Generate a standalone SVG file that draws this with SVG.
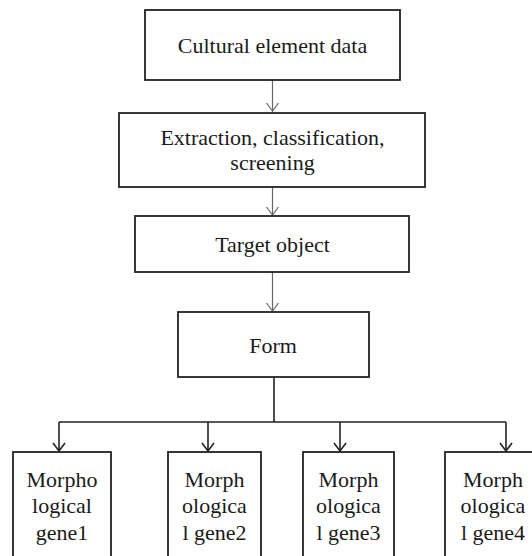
<svg xmlns="http://www.w3.org/2000/svg" width="532" height="556" viewBox="0 0 532 556">
<style>
.box{fill:#fff;stroke:#222;stroke-width:1.8}
.t{font-family:"Liberation Serif","Times New Roman",serif;font-size:22px;fill:#1a1a1a;text-anchor:middle}
.c1{fill:none;stroke:#666;stroke-width:1.2}
.c2{fill:none;stroke:#222;stroke-width:1.6}
</style>
<defs>
<marker id="ag" markerWidth="14" markerHeight="10" refX="7" refY="9" orient="auto-start-reverse" markerUnits="userSpaceOnUse" viewBox="0 0 14 10">
<path d="M1,1 L7,9 L13,1" fill="none" stroke="#666" stroke-width="1.2"/>
</marker>
<marker id="ad" markerWidth="14" markerHeight="10" refX="7" refY="9" markerUnits="userSpaceOnUse" viewBox="0 0 14 10">
<path d="M1,1 L7,9 L13,1" fill="none" stroke="#222" stroke-width="1.6"/>
</marker>
</defs>
<rect width="532" height="556" fill="#fff"/>
<g id="connectors">
<line class="c1" x1="272.5" y1="80" x2="272.5" y2="112"/>
<path class="c1" d="M272.5,187 V216"/>
<path class="c1" d="M272.5,272 V311"/>
<path class="c2" d="M274,377 V422 M59,422 H506"/>
<path class="c2" d="M59,422 V451"/>
<path class="c2" d="M208,422 V451"/>
<path class="c2" d="M340,422 V451"/>
<path class="c2" d="M506,422 V451"/>
<g fill="none" stroke="#666" stroke-width="1.2">
<path d="M266.5,103 L272.5,111 L278.5,103"/>
<path d="M266.5,207 L272.5,215 L278.5,207"/>
<path d="M266.5,303 L272.5,311 L278.5,303"/>
</g>
<g fill="none" stroke="#222" stroke-width="1.6">
<path d="M53,443 L59,451 L65,443"/>
<path d="M202,443 L208,451 L214,443"/>
<path d="M334,443 L340,451 L346,443"/>
<path d="M500,443 L506,451 L512,443"/>
</g>
</g>
<g id="n1"><rect class="box" x="145" y="10" width="255" height="70"/><text class="t" x="272.5" y="53">Cultural element data</text></g>
<g id="n2"><rect class="box" x="119" y="113" width="306" height="74"/><text class="t" x="272.5" y="145">Extraction, classification,</text><text class="t" x="272.5" y="170">screening</text></g>
<g id="n3"><rect class="box" x="135" y="216" width="274" height="56"/><text class="t" x="272.5" y="252">Target object</text></g>
<g id="n4"><rect class="box" x="178" y="312" width="191" height="65"/><text class="t" x="273" y="353">Form</text></g>
<g id="n5"><rect class="box" x="13" y="452" width="98" height="120"/><text class="t" x="62" y="487">Morpho</text><text class="t" x="62" y="513">logical</text><text class="t" x="62" y="540">gene1</text></g>
<g id="n6"><rect class="box" x="168" y="452" width="93" height="120"/><text class="t" x="214.5" y="487">Morph</text><text class="t" x="214.5" y="513">ologica</text><text class="t" x="214.5" y="540">l gene2</text></g>
<g id="n7"><rect class="box" x="303" y="452" width="91" height="120"/><text class="t" x="348.5" y="487">Morph</text><text class="t" x="348.5" y="513">ologica</text><text class="t" x="348.5" y="540">l gene3</text></g>
<g id="n8"><rect class="box" x="445" y="452" width="96" height="120"/><text class="t" x="493" y="487">Morph</text><text class="t" x="493" y="513">ologica</text><text class="t" x="493" y="540">l gene4</text></g>
</svg>
